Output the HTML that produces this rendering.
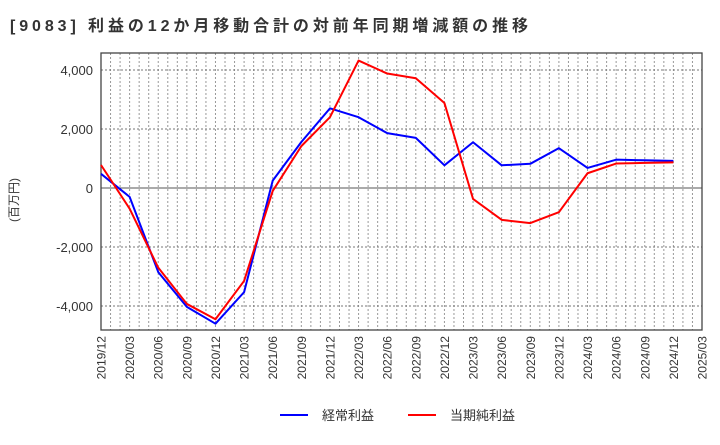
<!DOCTYPE html>
<html><head><meta charset="utf-8"><style>
body{margin:0;background:#fff;}
svg text{font-family:"Liberation Sans","Noto Sans CJK JP",sans-serif;}
</style></head><body>
<svg id="chart" width="720" height="440" xmlns="http://www.w3.org/2000/svg">
<text x="10" y="31" font-size="16" font-weight="bold" fill="#333" textLength="518" lengthAdjust="spacing">[9083]  利益の12か月移動合計の対前年同期増減額の推移</text>
<text transform="translate(18,200) rotate(-90)" text-anchor="middle" font-size="12" fill="#333">(百万円)</text>
<g id="grid"></g><g id="axes"></g><g id="series"></g>
<g>
<line x1="280" y1="415" x2="308" y2="415" stroke="#0000ff" stroke-width="2"/>
<text x="322" y="420" font-size="13" fill="#333">経常利益</text>
<line x1="408" y1="415" x2="436" y2="415" stroke="#ff0000" stroke-width="2"/>
<text x="450" y="420" font-size="13" fill="#333">当期純利益</text>
</g>
</svg>
<script>
const categories=["2019/12","2020/03","2020/06","2020/09","2020/12","2021/03","2021/06","2021/09","2021/12","2022/03","2022/06","2022/09","2022/12","2023/03","2023/06","2023/09","2023/12","2024/03","2024/06","2024/09","2024/12"];
const xTickLabels=["2019/12","2020/03","2020/06","2020/09","2020/12","2021/03","2021/06","2021/09","2021/12","2022/03","2022/06","2022/09","2022/12","2023/03","2023/06","2023/09","2023/12","2024/03","2024/06","2024/09","2024/12","2025/03"];
const ordinaryProfit=[480,-300,-2850,-4030,-4600,-3530,250,1560,2700,2400,1860,1700,770,1550,770,820,1350,680,960,940,920];
const netProfit=[780,-700,-2700,-3930,-4450,-3150,-100,1420,2400,4320,3880,3720,2880,-370,-1080,-1190,-820,500,830,850,870];
const yTicks=[-4000,-2000,0,2000,4000];
const yTickLabels=["-4,000","-2,000","0","2,000","4,000"];
const L=101,R=702,T=53,B=330,Y0=188,SC=118/4000;
const NS="http://www.w3.org/2000/svg";
const qw=(R-L)/(xTickLabels.length-1);
const x=i=>L+i*qw, y=v=>Y0-v*SC;
function mk(tag,attrs,parent){const e=document.createElementNS(NS,tag);for(const k in attrs)e.setAttribute(k,attrs[k]);parent.appendChild(e);return e;}
const grid=document.getElementById('grid'),axes=document.getElementById('axes'),series=document.getElementById('series');
mk('rect',{x:L,y:T,width:R-L,height:B-T,fill:'#fff'},grid);
for(let m=1;m<(xTickLabels.length-1)*3;m++){const gx=L+m*qw/3;
const g=mk('line',{x1:gx,y1:T,x2:gx,y2:B,stroke:'#999','stroke-dasharray':'2,2','stroke-width':1},grid);

}
yTicks.forEach((v,i)=>{
const gl=mk('line',{x1:L,y1:y(v),x2:R,y2:y(v),stroke:v===0?'#555':'#777','stroke-dasharray':v===0?'':'2,2','stroke-width':1},grid);


const t=mk('text',{x:L-8,y:y(v)+5,'text-anchor':'end','font-size':'13',fill:'#333'},axes);t.textContent=yTickLabels[i];

});
xTickLabels.forEach((lab,i)=>{
const t=mk('text',{transform:`translate(${x(i)+4.5},336) rotate(-90)`,'text-anchor':'end','font-size':'12',fill:'#333'},axes);t.textContent=lab;

});
const fr=mk('rect',{x:L,y:T,width:R-L,height:B-T,fill:'none',stroke:'#444','stroke-width':1.3},axes);


function line(data,color,name){
const p=mk('polyline',{points:data.map((v,i)=>x(i)+','+y(v)).join(' '),fill:'none',stroke:color,'stroke-width':2,'stroke-linejoin':'round'},series);

}
line(ordinaryProfit,'#0000ff','ordinary-profit-line');
line(netProfit,'#ff0000','net-profit-line');
</script>
</body></html>
